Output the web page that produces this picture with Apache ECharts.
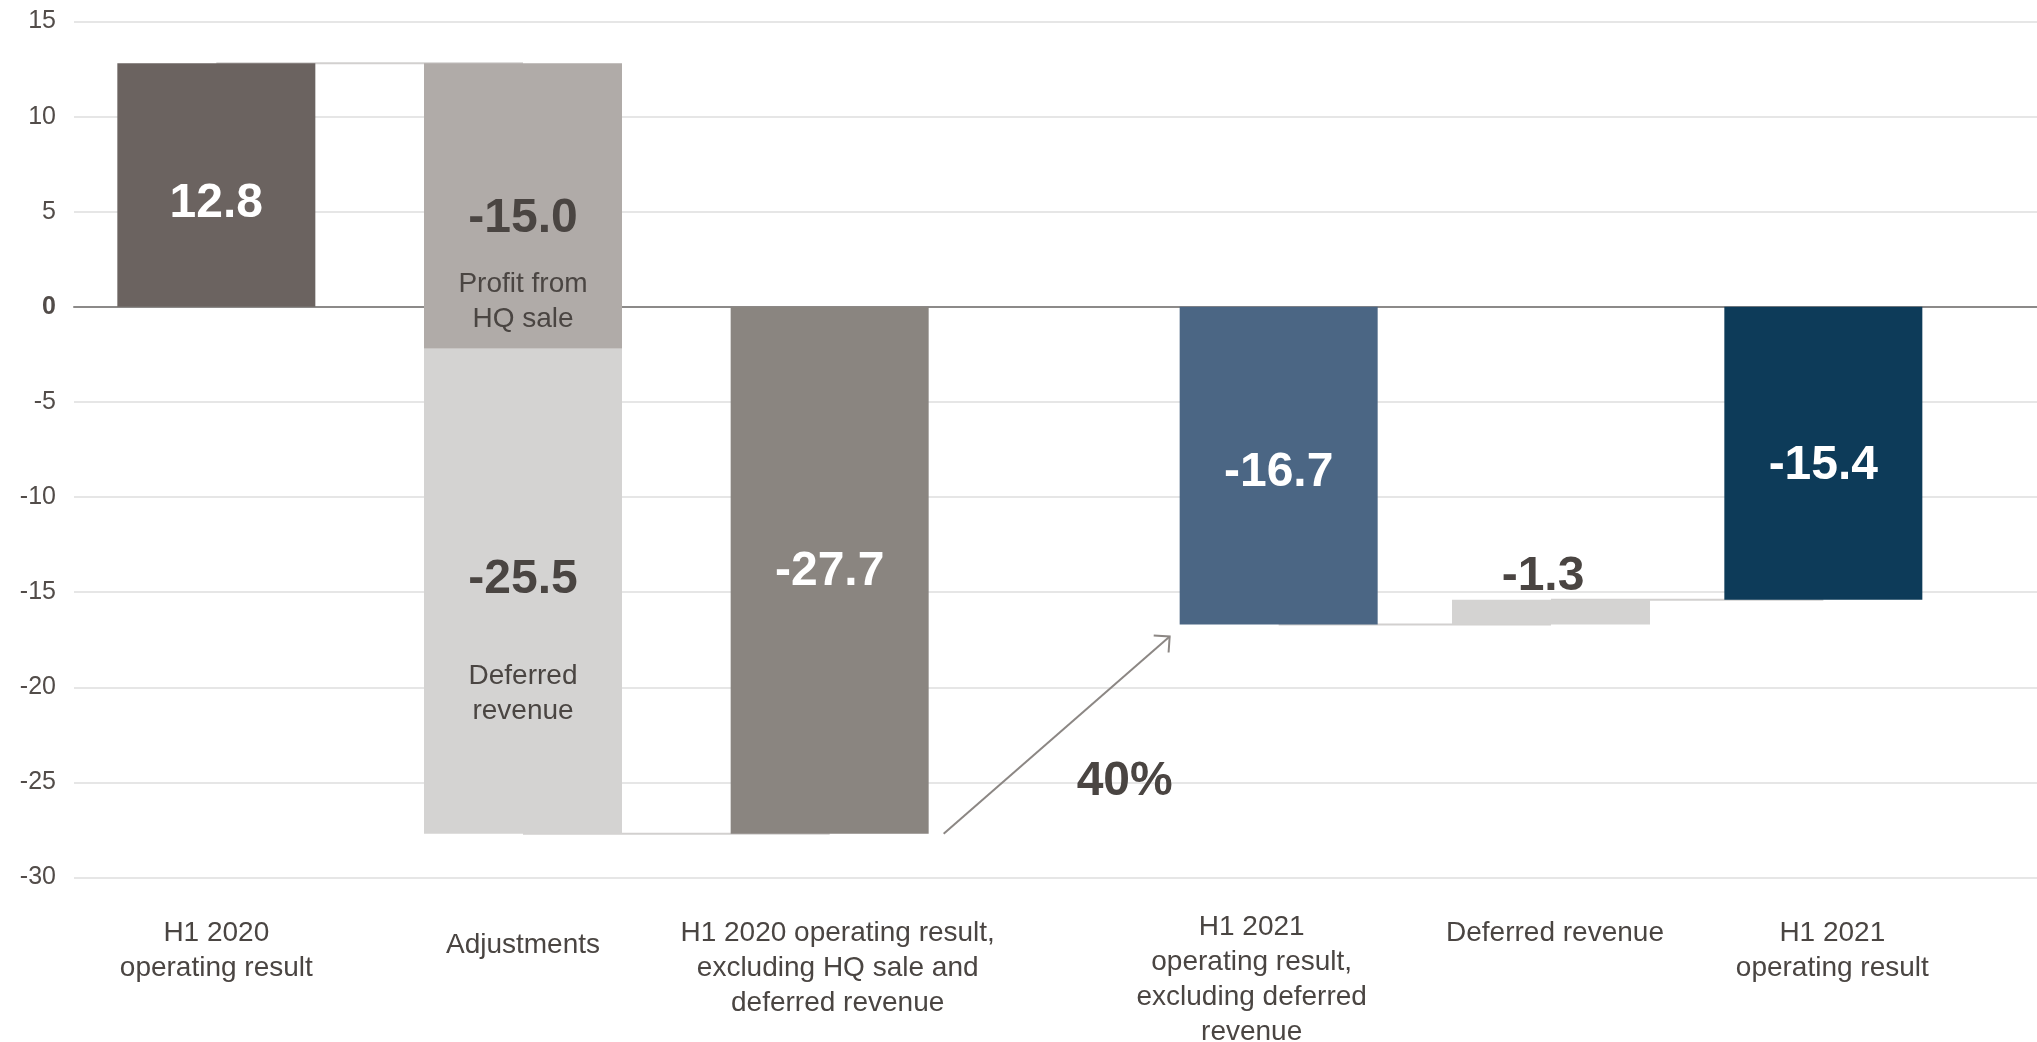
<!DOCTYPE html>
<html>
<head>
<meta charset="utf-8">
<title>Operating result bridge H1 2020 – H1 2021</title>
<script src="https://cdn.jsdelivr.net/npm/echarts@6/dist/echarts.min.js"></script>
<style>
  html, body { margin: 0; padding: 0; background: #ffffff; }
  #chart { width: 2037px; height: 1042px; }
</style>
</head>
<body>
<div id="chart"></div>
<script>
// ---- data ----
const leftCategories = [
  'H1 2020\noperating result',
  'Adjustments',
  'H1 2020 operating result,\nexcluding HQ sale and\ndeferred revenue'
];
const rightCategories = [
  'H1 2021\noperating result,\nexcluding deferred\nrevenue',
  'Deferred revenue',
  'H1 2021\noperating result'
];
const leftTotals   = [12.8, '-', -27.7];   // H1 2020 result, adjusted H1 2020 result
const adjHQSale    = ['-', -15.0, '-'];    // profit from HQ sale
const adjDeferred  = ['-', -25.5, '-'];    // deferred revenue
const rightTotals  = [-16.7, '-', -15.4];  // H1 2021 adjusted, H1 2021 result
const rightDeferred = ['-', -1.3, '-'];    // deferred revenue H1 2021
const adjNotes = ['Profit from\nHQ sale', 'Deferred\nrevenue'];
const yTicks = { min: -30, max: 15, step: 5 };
const growthText = '40%';

// ---- styles ----
const FONT = "'Liberation Sans', Arial, Helvetica, sans-serif";
const DARK = '#4a4542';
const AXIS_TEXT = '#524c49';
const BAR_W = 198;
const leftColors  = ['#6b6360', null, '#8a8580'];
const rightColors = ['#4b6684', null, '#0d3b59'];
const GRID_TOP = 21.5, GRID_BOTTOM = 164.5;

const fmt = v => Number(v).toFixed(1);

// waterfall helpers built from the values above
const leftBase  = leftTotals.map((v, i) => adjHQSale[i] === '-' ? '-' : leftTotals[0]);
const rightBase = rightTotals.map((v, i) => rightDeferred[i] === '-' ? '-' : rightTotals[2]);
const leftLinkTop    = [leftTotals[0], leftTotals[0], '-'];
const leftLinkBottom = ['-', leftTotals[2], leftTotals[2]];
const rightLinkA     = [rightTotals[0], rightTotals[0], '-'];
const rightLinkB     = ['-', rightTotals[2], rightTotals[2]];

const totalsData = (vals, colors) => vals.map((v, i) =>
  v === '-' ? '-' : { value: v, itemStyle: { color: colors[i] } });

const noteRich = note => note.split('\n').map(s => '{t|' + s + '}').join('\n');

const categoryAxis = (gridIndex, names, itemStyles) => ({
  type: 'category',
  gridIndex,
  data: names.map((n, i) => Object.assign({ value: n }, itemStyles[i] ? { textStyle: itemStyles[i] } : {})),
  axisLine: { show: false, onZero: false },
  axisTick: { show: false },
  splitLine: { show: false },
  axisLabel: {
    interval: 0,
    margin: 32,
    fontFamily: FONT,
    fontSize: 28,
    lineHeight: 35,
    color: DARK,
    align: 'center'
  }
});

const hiddenY = gridIndex => ({
  type: 'value', gridIndex, min: yTicks.min, max: yTicks.max, interval: yTicks.step, show: false
});

const linkSeries = (xi, data) => ({
  type: 'line', xAxisIndex: xi, yAxisIndex: xi, data,
  z: 1, symbol: 'none', showSymbol: false, silent: true,
  lineStyle: { color: '#d2d0cf', width: 2 }
});

const whiteLabel = () => ({
  show: true, position: 'inside',
  formatter: p => fmt(p.value),
  fontFamily: FONT, fontSize: 48, fontWeight: 'bold', color: '#ffffff'
});

const gridBox = extra => Object.assign({
  top: GRID_TOP, bottom: GRID_BOTTOM, outerBoundsMode: 'none', containLabel: false
}, extra);

const option = {
  animation: false,
  backgroundColor: '#ffffff',
  textStyle: { fontFamily: FONT },
  grid: [
    gridBox({ left: 74, right: 0 }),
    gridBox({ left: 63, width: 920 }),
    gridBox({ left: 1142.5, width: 817 })
  ],
  xAxis: [
    {
      type: 'category', gridIndex: 0, data: [''],
      axisLine: { show: true, onZero: true, lineStyle: { color: '#8c8a89', width: 2 } },
      axisTick: { show: false }, axisLabel: { show: false }, splitLine: { show: false }
    },
    categoryAxis(1, leftCategories, [
      { padding: [6, 0, 0, 0] },
      { padding: [18, 0, 0, 0] },
      { padding: [6, 0, 0, 16] }
    ]),
    categoryAxis(2, rightCategories, [
      { padding: [0, 54, 0, 0] },
      { padding: [6, 0, 0, 8] },
      { padding: [6, 0, 0, 18] }
    ])
  ],
  yAxis: [
    {
      type: 'value', gridIndex: 0,
      min: yTicks.min, max: yTicks.max, interval: yTicks.step,
      axisLine: { show: false }, axisTick: { show: false },
      splitLine: { lineStyle: { color: '#dedede', width: 1.5 } },
      axisLabel: {
        margin: 18,
        fontFamily: FONT, fontSize: 25, color: AXIS_TEXT,
        formatter: v => v === 0 ? '{b|0}' : String(v),
        rich: { b: { fontFamily: FONT, fontSize: 25, fontWeight: 'bold', color: AXIS_TEXT } }
      }
    },
    hiddenY(1),
    hiddenY(2)
  ],
  series: [
    // connectors between the steps (drawn under the bars)
    linkSeries(1, leftLinkTop),
    linkSeries(1, leftLinkBottom),
    linkSeries(2, rightLinkA),
    linkSeries(2, rightLinkB),

    // H1 2020 totals
    {
      name: 'H1 2020', type: 'bar', xAxisIndex: 1, yAxisIndex: 1,
      barWidth: BAR_W, barGap: '-100%', z: 2,
      data: totalsData(leftTotals, leftColors),
      label: whiteLabel(),
      labelLayout: p => ({ dy: p.dataIndex === 0 ? 19 : 1 })
    },
    // adjustments step (transparent base + two segments)
    {
      name: 'base-left', type: 'bar', xAxisIndex: 1, yAxisIndex: 1,
      stack: 'adj', stackStrategy: 'all', barWidth: BAR_W, barGap: '-100%', z: 2,
      silent: true, itemStyle: { color: 'transparent' },
      data: leftBase
    },
    {
      name: 'Profit from HQ sale', type: 'bar', xAxisIndex: 1, yAxisIndex: 1,
      stack: 'adj', stackStrategy: 'all', barWidth: BAR_W, barGap: '-100%', z: 2,
      itemStyle: { color: '#b0aba8' },
      data: adjHQSale,
      label: {
        show: true, position: 'inside', offset: [0, 48], align: 'center',
        formatter: p => '{v|' + fmt(p.value) + '}\n' + noteRich(adjNotes[0]),
        rich: {
          v: { fontFamily: FONT, fontSize: 48, fontWeight: 'bold', color: DARK, lineHeight: 96, align: 'center' },
          t: { fontFamily: FONT, fontSize: 28, color: DARK, lineHeight: 35.5, align: 'center' }
        }
      }
    },
    {
      name: 'Deferred revenue 2020', type: 'bar', xAxisIndex: 1, yAxisIndex: 1,
      stack: 'adj', stackStrategy: 'all', barWidth: BAR_W, barGap: '-100%', z: 2,
      itemStyle: { color: '#d4d3d2' },
      data: adjDeferred,
      label: {
        show: true, position: 'inside', offset: [0, 24], align: 'center',
        formatter: p => '{v|' + fmt(p.value) + '}\n' + noteRich(adjNotes[1]),
        rich: {
          v: { fontFamily: FONT, fontSize: 48, fontWeight: 'bold', color: DARK, lineHeight: 157, align: 'center' },
          t: { fontFamily: FONT, fontSize: 28, color: DARK, lineHeight: 35, align: 'center' }
        }
      }
    },

    // H1 2021 totals
    {
      name: 'H1 2021', type: 'bar', xAxisIndex: 2, yAxisIndex: 2,
      barWidth: BAR_W, barGap: '-100%', z: 2,
      data: totalsData(rightTotals, rightColors),
      label: whiteLabel(),
      labelLayout: p => ({ dy: p.dataIndex === 0 ? 7 : 12 })
    },
    {
      name: 'base-right', type: 'bar', xAxisIndex: 2, yAxisIndex: 2,
      stack: 'def', barWidth: BAR_W, barGap: '-100%', z: 2,
      silent: true, itemStyle: { color: 'transparent' },
      data: rightBase
    },
    {
      name: 'Deferred revenue 2021', type: 'bar', xAxisIndex: 2, yAxisIndex: 2,
      stack: 'def', barWidth: BAR_W, barGap: '-100%', z: 2,
      itemStyle: { color: '#d4d3d2' },
      data: rightDeferred,
      label: {
        show: true, position: 'top', distance: 2, offset: [-8, 3],
        formatter: p => fmt(p.value),
        fontFamily: FONT, fontSize: 48, fontWeight: 'bold', color: DARK
      }
    }
  ]
};

const chart = echarts.init(document.getElementById('chart'), null, { renderer: 'canvas' });
chart.setOption(option);

// growth arrow between the adjusted 2020 and 2021 results
const from = chart.convertToPixel({ gridIndex: 1 }, [2, leftTotals[2]]);
const to = chart.convertToPixel({ gridIndex: 2 }, [0, rightTotals[0]]);
const x1 = from[0] + BAR_W / 2 + 15, y1 = from[1];
const x2 = to[0] - BAR_W / 2 - 10, y2 = to[1] + 12;
const ang = Math.atan2(y1 - y2, x1 - x2);
const head = 16, spread = Math.PI / 4;
const hp1 = [x2 + head * Math.cos(ang - spread), y2 + head * Math.sin(ang - spread)];
const hp2 = [x2 + head * Math.cos(ang + spread), y2 + head * Math.sin(ang + spread)];
const midX = (x1 + x2) / 2, midY = (y1 + y2) / 2;

chart.setOption({
  graphic: [
    {
      type: 'line', silent: true, z: 10,
      shape: { x1, y1, x2, y2 },
      style: { stroke: '#8c8784', lineWidth: 2 }
    },
    {
      type: 'polyline', silent: true, z: 10,
      shape: { points: [hp1, [x2, y2], hp2] },
      style: { stroke: '#8c8784', lineWidth: 2, fill: null }
    },
    {
      type: 'text', silent: true, z: 10,
      x: midX + 68, y: midY + 47,
      style: {
        text: growthText, align: 'center', verticalAlign: 'middle',
        font: 'bold 48px ' + FONT, fill: DARK
      }
    }
  ]
});
</script>
</body>
</html>
